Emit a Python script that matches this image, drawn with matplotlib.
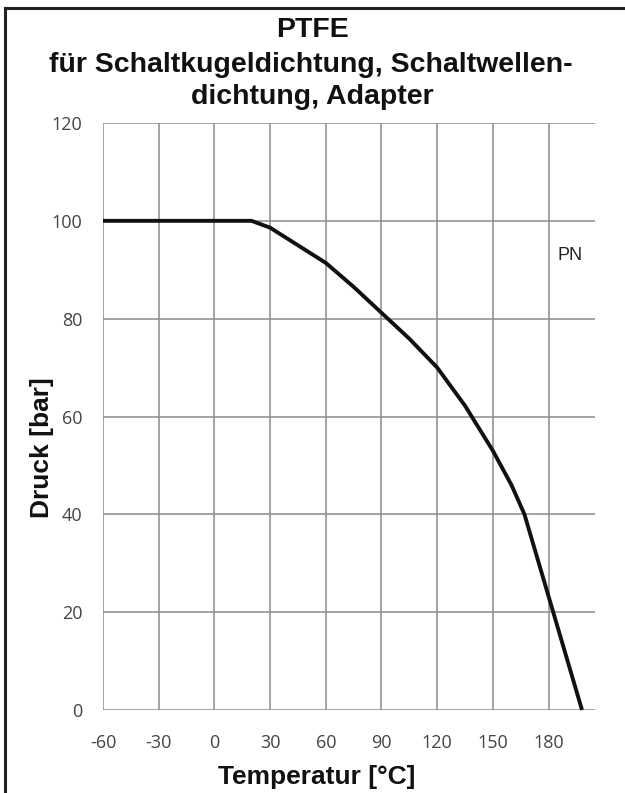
import matplotlib
matplotlib.use("Agg")
import matplotlib.pyplot as plt
from matplotlib.lines import Line2D

temperature = [-60, 20, 30, 40, 60, 75, 90, 105, 120, 135, 150, 160, 167, 198]
pressure = [100, 100, 98.6, 96.2, 91.4, 86.5, 81.2, 75.9, 70, 62.2, 53, 46, 40, 0]
x_ticks = [-60, -30, 0, 30, 60, 90, 120, 150, 180]
x_tick_labels = ["-60", "-30", "0", "30", "60", "90", "120", "150", "180"]
y_ticks = [0, 20, 40, 60, 80, 100, 120]
y_tick_labels = ["0", "20", "40", "60", "80", "100", "120"]

W, H = 625, 793
fig = plt.figure(figsize=(W / 100, H / 100), dpi=100)
fig.patch.set_facecolor("white")

left, right, bottom, top = 103, 595, 710, 123
ax = fig.add_axes([left / W, 1 - bottom / H, (right - left) / W, (bottom - top) / H])
ax.set_xlim(-60, 205)
ax.set_ylim(0, 120)
ax.set_xticks(x_ticks)
ax.set_xticklabels(x_tick_labels)
ax.set_yticks(y_ticks)
ax.set_yticklabels(y_tick_labels)
for s in ax.spines.values():
    s.set_visible(False)
ax.grid(True, color="#8c8c8c", linewidth=1.1)
ax.set_axisbelow(True)
ax.tick_params(length=0, labelsize=13, labelcolor="#444444")
ax.tick_params(axis="y", pad=15)
ax.tick_params(axis="x", pad=17)
for lab in ax.get_xticklabels() + ax.get_yticklabels():
    lab.set_family("Open Sans")

ax.plot(temperature, pressure, color="#111111", linewidth=2.8, solid_joinstyle="round",
        solid_capstyle="butt", clip_on=False)
ax.text(191.5, 93, "PN", fontsize=13, family="Liberation Sans", ha="center", va="center", color="#222222")

bold = dict(family="Liberation Sans", fontweight="bold", color="#111111", ha="center")
fig.text(312 / W, 1 - 37 / H, "PTFE", fontsize=20.5, va="baseline", **bold)
fig.text(311 / W, 1 - 72 / H, "für Schaltkugeldichtung, Schaltwellen-", fontsize=20.5, va="baseline", **bold)
fig.text(312 / W, 1 - 104 / H, "dichtung, Adapter", fontsize=20.5, va="baseline", **bold)
fig.text(317 / W, 1 - 777 / H, "Temperatur [°C]", fontsize=19, va="center", **bold)
fig.text(42 / W, 1 - 448 / H, "Druck [bar]", fontsize=19, rotation=90, va="center", **bold)

fig.add_artist(Line2D([5 / W, 5 / W], [0, 1 - 8 / H], transform=fig.transFigure, color="#222222", linewidth=2.2))
fig.add_artist(Line2D([5 / W, 1], [1 - 8 / H, 1 - 8 / H], transform=fig.transFigure, color="#222222", linewidth=2.2))

fig.savefig("out.png", dpi=100)
